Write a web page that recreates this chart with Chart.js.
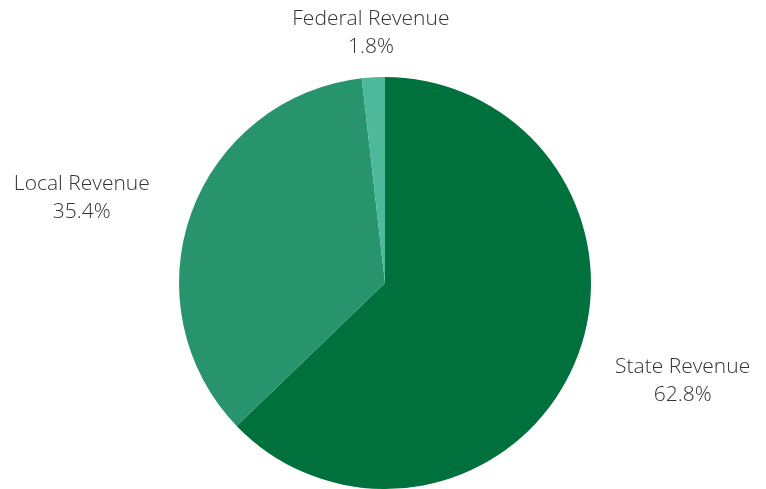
<!DOCTYPE html>
<html lang="en">
<head>
    <meta charset="UTF-8">
    <title>Revenue Sources</title>
    <style>
        body {
            margin: 0;
            padding: 0;
            background-color: #fff;
        }
        .wrap {
            width: 766px;
            height: 489px;
        }
    </style>
</head>
<body>
    <div class="wrap">
        <canvas id="pieChart" width="766" height="489"></canvas>
    </div>

    <script src="https://cdn.jsdelivr.net/npm/chart.js"></script>
    <script>
        const categories = ['State Revenue', 'Local Revenue', 'Federal Revenue'];
        const shares = [62.8, 35.4, 1.8];
        const sliceColors = ['#00713D', '#28946D', '#4DB89A'];

        // draws the two-line labels outside each slice
        const outsideLabels = {
            id: 'outsideLabels',
            afterDatasetsDraw(chart) {
                const ctx = chart.ctx;
                const arcs = chart.getDatasetMeta(0).data;
                ctx.save();
                ctx.font = '300 21px "Open Sans", sans-serif';
                ctx.fillStyle = '#333';
                ctx.textBaseline = 'middle';
                arcs.forEach((arc, i) => {
                    const mid = (arc.startAngle + arc.endAngle) / 2;
                    const d = arc.outerRadius + 44;
                    const x = arc.x + Math.cos(mid) * d;
                    const y = arc.y + Math.sin(mid) * d;
                    const c = Math.cos(mid);
                    const pct = shares[i].toFixed(1) + '%';
                    const w = ctx.measureText(categories[i]).width;
                    // x of the block's center depends on which side of the pie it sits
                    let cx = x;
                    if (Math.abs(c) >= 0.2) cx = c > 0 ? x + w / 2 : x - w / 2;
                    ctx.textAlign = 'center';
                    ctx.fillText(categories[i], cx, y - 14);
                    ctx.fillText(pct, cx, y + 14);
                });
                ctx.restore();
            }
        };

        new Chart(document.getElementById('pieChart'), {
            type: 'pie',
            data: {
                labels: categories,
                datasets: [{
                    data: shares,
                    backgroundColor: sliceColors,
                    borderWidth: 0
                }]
            },
            options: {
                responsive: false,
                animation: false,
                layout: {
                    padding: { top: 77, bottom: 0, left: 179, right: 175 }
                },
                plugins: {
                    legend: { display: false },
                    tooltip: { enabled: false }
                }
            },
            plugins: [outsideLabels]
        });
    </script>
</body>
</html>
